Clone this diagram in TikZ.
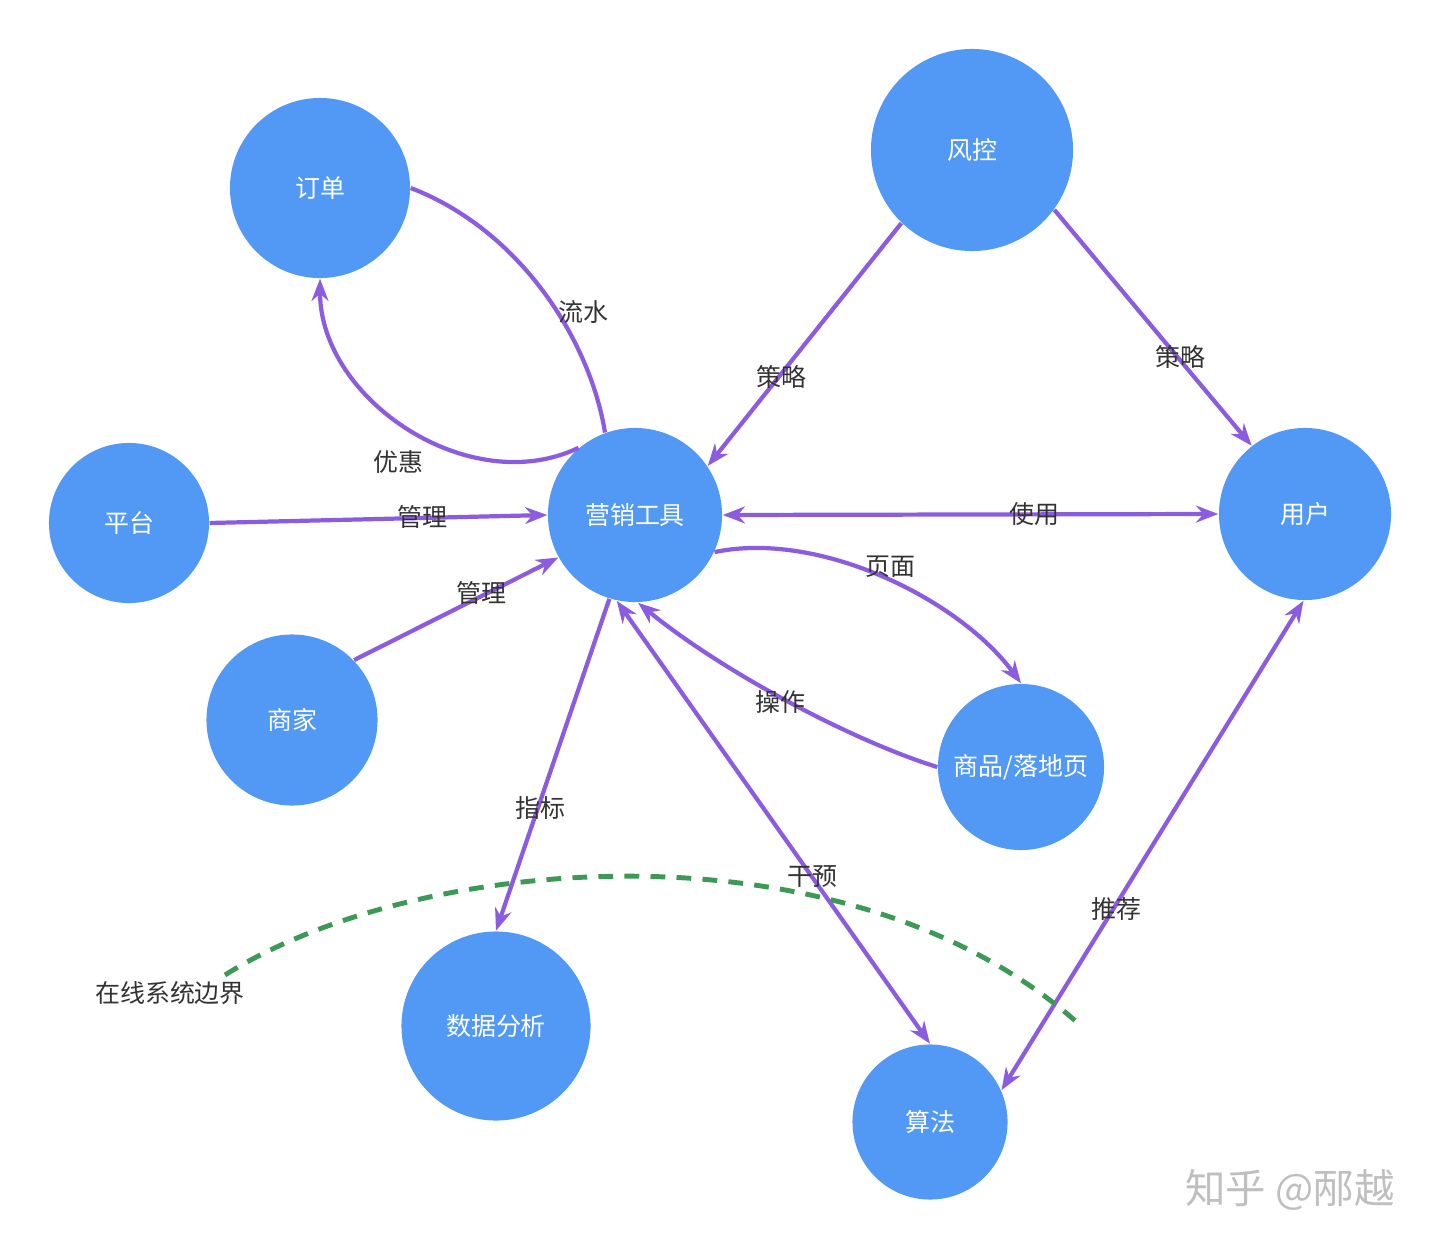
\documentclass[tikz,border=0pt]{standalone}
\usepackage{fontspec}
\setmainfont{Noto Sans CJK SC}
\usetikzlibrary{arrows.meta}

\definecolor{nodeblue}{RGB}{82,153,245}
\definecolor{linkpurple}{RGB}{139,92,224}
\definecolor{edgegreen}{RGB}{61,154,86}
\definecolor{labelgray}{RGB}{51,51,51}

\tikzset{
  bubble/.style={circle, fill=nodeblue, text=white, inner sep=0pt,
    minimum size=#1, font=\fontsize{7.1}{8}\selectfont},
  link/.style={draw=linkpurple, line width=1.2pt,
    -{Stealth[length=6.3pt,width=4.8pt]}},
  twoway/.style={link, {Stealth[length=6.3pt,width=4.8pt]}-{Stealth[length=6.3pt,width=4.8pt]}},
  tag/.style={text=labelgray, inner sep=1pt, font=\fontsize{7.1}{8}\selectfont},
  boundary/.style={draw=edgegreen, line width=1.4pt, dash pattern=on 4.2pt off 3.2pt}
}

\begin{document}
\begin{tikzpicture}[x=0.01cm,y=-0.01cm]
  \useasboundingbox (0,0) rectangle (1440,1249);

  % Circles
  \node[bubble=1.80cm] (order)   at (320,188)  {订单};
  \node[bubble=2.02cm] (risk)    at (972,150)  {风控};
  \node[bubble=1.60cm] (platform) at (129,523) {平台};
  \node[bubble=1.74cm] (tool)    at (635,515)  {营销工具};
  \node[bubble=1.72cm] (user)    at (1305,514) {用户};
  \node[bubble=1.71cm] (seller)  at (292,720)  {商家};
  \node[bubble=1.66cm] (goods)   at (1021,767) {商品/落地页};
  \node[bubble=1.89cm] (data)    at (496,1026) {数据分析};
  \node[bubble=1.55cm] (algo)    at (930,1122) {算法};

  % Links
  \draw[draw=linkpurple, line width=1.2pt] (order.0) .. controls (520,230) and (590,340) .. (tool.110);
  \draw[link] (tool.130) .. controls (470,500) and (320,400) .. (order.270);
  \draw[link] (risk.-134) -- (tool.34);
  \draw[link] (risk.-36) -- (user.128);
  \draw[link] (platform.0) -- (tool.180);
  \draw[link] (seller.44) -- (tool.209);
  \draw[twoway] (tool.0) -- (user.180);
  \draw[link] (tool.-25) .. controls (820,530) and (960,600) .. (goods.90);
  \draw[link] (goods.180) .. controls (850,740) and (720,670) .. (tool.-88);
  \draw[link] (tool.-107) -- (data.90);
  \draw[twoway] (tool.-102) -- (algo.90);
  \draw[twoway] (user.-91) -- (algo.24);

  % Online system boundary
  \coordinate (bstart) at (225,975);
  \coordinate (bend) at (1080,1025);
  \draw[boundary] (bstart) .. controls (420,852) and (850,818) .. (bend);

  % Labels
  \node[tag] (tliushui) at (583,312)  {流水};
  \node[tag] (tyouhui)  at (398,462)  {优惠};
  \node[tag] (tcelue1)  at (781,377)  {策略};
  \node[tag] (tcelue2)  at (1180,357) {策略};
  \node[tag] (tguanli1) at (422,517)  {管理};
  \node[tag] (tguanli2) at (481,593)  {管理};
  \node[tag] (tshiyong) at (1034,514) {使用};
  \node[tag] (tyemian)  at (890,567)  {页面};
  \node[tag] (tcaozuo)  at (780,702)  {操作};
  \node[tag] (tzhibiao) at (540,808)  {指标};
  \node[tag] (tganyu)   at (812,877)  {干预};
  \node[tag] (ttuijian) at (1116,909) {推荐};
  \node[tag] (tbound)   at (170,993)  {在线系统边界};

  % Watermark
  \node[text=black!25, font=\fontsize{11.5}{12}\selectfont] (mark) at (1290,1190) {知乎 @邴越};
\end{tikzpicture}
\end{document}
